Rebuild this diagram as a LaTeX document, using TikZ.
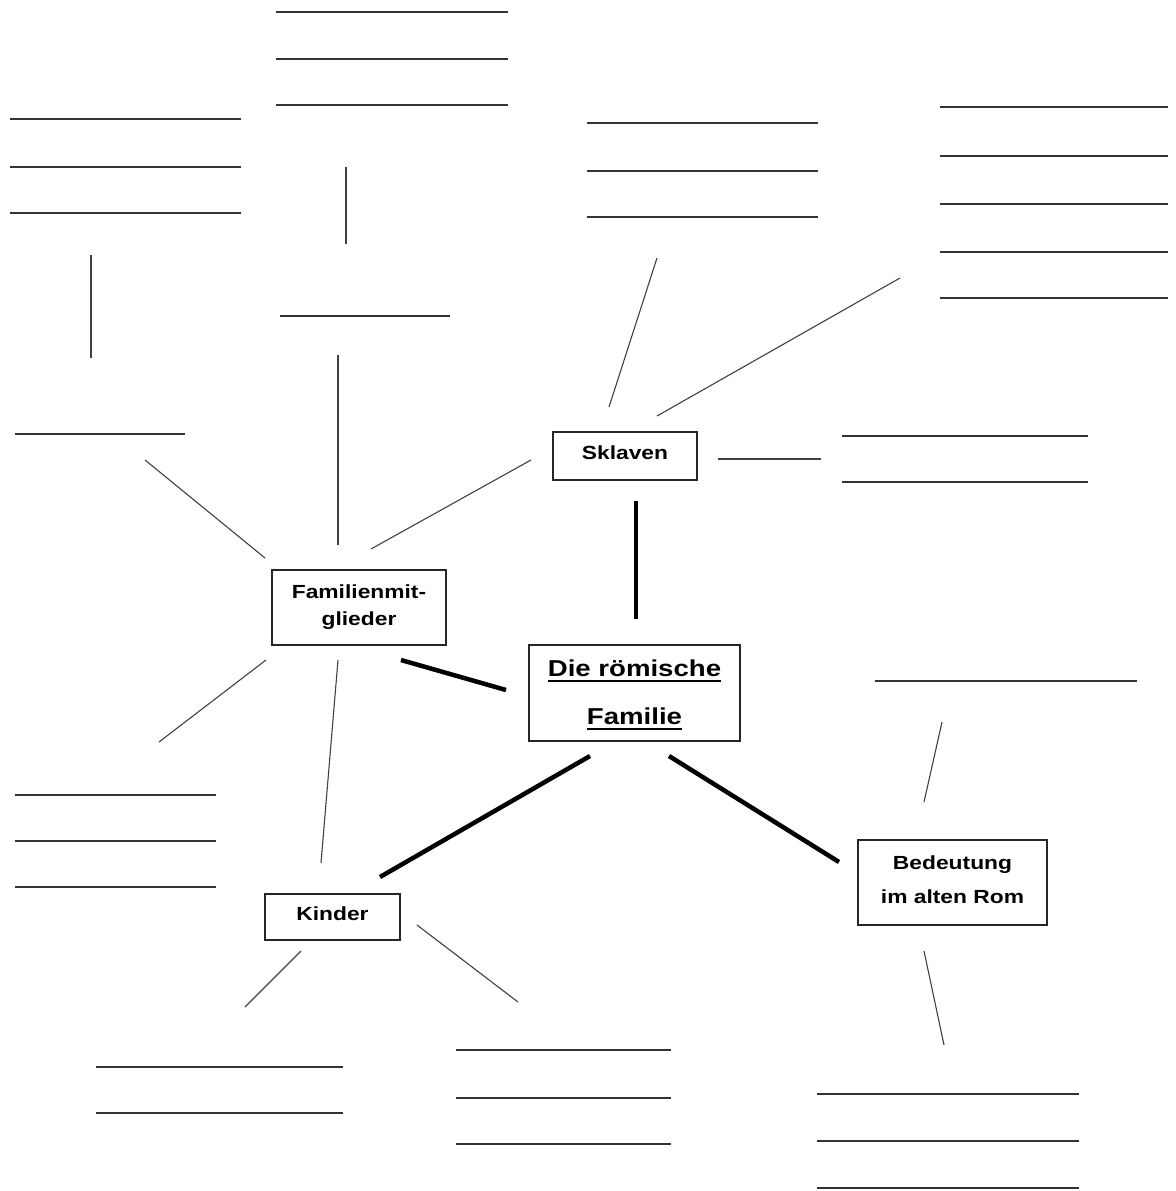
\documentclass[tikz,border=0pt]{standalone}
\usepackage{fontspec}
\setmainfont{Liberation Sans}[FakeStretch=1.2]
\newcommand{\myul}[1]{{\setbox0\hbox{#1}\rlap{\raisebox{-5pt}{\rule{\wd0}{2pt}}}\box0}}
\newcommand{\up}[1]{\raisebox{3pt}[\height][\depth]{#1}}
\newcommand{\down}[1]{\raisebox{-2pt}[\height][\depth]{#1}}
\begin{document}
\begin{tikzpicture}[x=1pt,y=-1pt,
  wline/.style={draw=black!80,line width=1.5pt},
  conn/.style={draw=black!75,line width=1.1pt},
  thick conn/.style={draw=black,line width=4.5pt},
  box/.style={draw=black!85,line width=1.3pt,fill=white,inner sep=0pt,align=center,font=\bfseries\fontsize{19}{27}\selectfont}]
\useasboundingbox (0,0) rectangle (1175,1191);
% boxes
\node[box,minimum width=144pt,minimum height=48pt] (skl) at (625,456) {\up{Sklaven}};
\node[box,minimum width=174pt,minimum height=75pt] (fam) at (359,607.5) {Familienmit-\\glieder};
\node[box,minimum width=211pt,minimum height=96pt,font=\bfseries\fontsize{23}{48}\selectfont] (main) at (634.5,693)
  {\down{\myul{Die römische}}\\\down{\myul{Familie}}};
\node[box,minimum width=135pt,minimum height=46pt] (kin) at (332.5,917) {\up{Kinder}};
\node[box,minimum width=189pt,minimum height=85pt,font=\bfseries\fontsize{19}{34}\selectfont] (bed) at (952.5,882.5) {\up{Bedeutung}\\\up{im alten Rom}};
% writing lines
\foreach \y in {12,59,105} \draw[wline] (276,\y) -- (508,\y);
\foreach \y in {119,167,213} \draw[wline] (10,\y) -- (241,\y);
\foreach \y in {123,171,217} \draw[wline] (587,\y) -- (818,\y);
\foreach \y in {107,156,204,252,298} \draw[wline] (940,\y) -- (1168,\y);
\draw[wline] (280,316) -- (450,316);
\draw[wline] (15,434) -- (185,434);
\foreach \y in {436,482} \draw[wline] (842,\y) -- (1088,\y);
\draw[wline] (875,681) -- (1137,681);
\foreach \y in {795,841,887} \draw[wline] (15,\y) -- (216,\y);
\foreach \y in {1067,1113} \draw[wline] (96,\y) -- (343,\y);
\foreach \y in {1050,1098,1144} \draw[wline] (456,\y) -- (671,\y);
\foreach \y in {1094,1141,1188} \draw[wline] (817,\y) -- (1079,\y);
% connector ends
\coordinate (a1) at (346,167); \coordinate (a2) at (346,244);
\coordinate (b1) at (91,255);  \coordinate (b2) at (91,358);
\coordinate (c1) at (338,355); \coordinate (c2) at (338,545);
\coordinate (d1) at (145,460); \coordinate (d2) at (265,558);
\coordinate (e1) at (371,549); \coordinate (e2) at (531,460);
\coordinate (f1) at (609,407); \coordinate (f2) at (657,258);
\coordinate (g1) at (657,416); \coordinate (g2) at (900,278);
\coordinate (h1) at (718,459); \coordinate (h2) at (821,459);
\coordinate (i1) at (159,742); \coordinate (i2) at (266,660);
\coordinate (j1) at (338,660); \coordinate (j2) at (321,863);
\coordinate (k1) at (245,1007); \coordinate (k2) at (301,951);
\coordinate (l1) at (417,925); \coordinate (l2) at (518,1002);
\coordinate (m1) at (942,722); \coordinate (m2) at (924,802);
\coordinate (n1) at (924,951); \coordinate (n2) at (944,1045);
\foreach \p in {a,b,c,d,e,f,g,h,i,j,k,l,m,n} \draw[conn] (\p1) -- (\p2);
% thick connectors
\coordinate (t1) at (636,501); \coordinate (t2) at (636,619);
\coordinate (u1) at (401,660); \coordinate (u2) at (506,690);
\coordinate (v1) at (590,756); \coordinate (v2) at (380,877);
\coordinate (w1) at (669,756); \coordinate (w2) at (839,862);
\foreach \p in {t,u,v,w} \draw[thick conn] (\p1) -- (\p2);
\end{tikzpicture}
\end{document}
